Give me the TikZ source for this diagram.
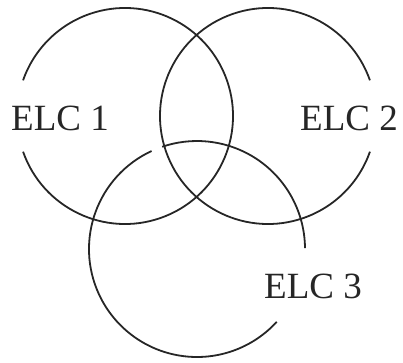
\documentclass[tikz,border=0pt]{standalone}
\usepackage{fontspec}
\setmainfont{Liberation Serif}
\usepackage{tikz}
\usetikzlibrary{positioning, calc}

\tikzset{
    ring/.style={line width=1.8pt, black!85},
    elclabel/.style={font=\fontsize{37}{44}\selectfont, text=black!85, inner sep=0pt}
}

\begin{document}
\begin{tikzpicture}[x=1pt,y=1pt]

        % Frame
        \useasboundingbox (0,0) rectangle (403,362);

        % Circle centres
        \coordinate (c1) at (125,246);
        \coordinate (c2) at (268,246);
        \coordinate (c3) at (197,113);

        % Circles (broken where the labels sit)
        \draw[ring] ($(c1)+(-160.7:108)$) arc[start angle=-160.7, end angle=160.7, radius=108];
        \draw[ring] ($(c2)+(19.3:108)$) arc[start angle=19.3, end angle=340.7, radius=108];
        \draw[ring] ($(c3)+(0.5:108)$) arc[start angle=0.5, end angle=108.8, radius=108];
        \draw[ring] ($(c3)+(114.9:108)$) arc[start angle=114.9, end angle=317.6, radius=108];

        % Labels
        \node[elclabel] (elc1) at (60,244) {ELC 1};
        \node[elclabel] (elc2) at (349,244) {ELC 2};
        \node[elclabel] (elc3) at (313,76) {ELC 3};

\end{tikzpicture}
\end{document}
